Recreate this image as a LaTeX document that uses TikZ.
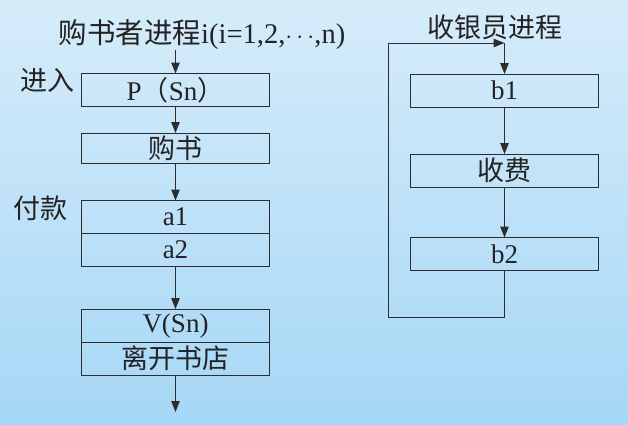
\documentclass[tikz,border=0pt]{standalone}
\usepackage{fontspec}
\setmainfont{Liberation Serif}
\newfontfamily\cjk{Noto Sans CJK SC}
\usetikzlibrary{arrows.meta,positioning}

\definecolor{bgtop}{RGB}{214,236,250}
\definecolor{bgbot}{RGB}{166,215,246}
\definecolor{linegray}{RGB}{45,45,45}
\definecolor{textgray}{RGB}{35,35,35}

\begin{document}
\begin{tikzpicture}[x=1pt, y=1pt,
    box/.style={draw=linegray, line width=1pt, outer sep=0pt, inner sep=0pt,
                minimum width=188pt, minimum height=33pt, text=textgray,
                font=\fontsize{27}{27}\selectfont},
    lbl/.style={text=textgray, inner sep=0pt, font=\fontsize{27}{27}\selectfont},
    arr/.style={-{Triangle[length=11pt, width=8.5pt]}, line width=1pt, draw=linegray}
]

% background
\shade[top color=bgtop, bottom color=bgbot] (0,0) rectangle (628,-424);
\useasboundingbox (0,0) rectangle (628,-424);

% buyer process
\node[lbl, font=\fontsize{28.5}{28.5}\selectfont] (ttl) at (202,-35)
    {{\cjk 购书者进程}i(i=1,2,$\cdots$,n)};
\node[box] (p) at (175.5,-90) {P{\cjk （}Sn{\cjk ）}};
\node[box, minimum height=30pt] (buy) at (175.5,-148) {\cjk 购书};
\node[box] (a1) at (175.5,-217) {a1};
\node[box, below=0pt of a1] (a2) {a2};
\node[box] (v) at (175.5,-325.5) {V(Sn)};
\node[box, below=0pt of v] (leave) {\cjk 离开书店};
\coordinate (exit) at (175.5,-412);

\node[lbl] (enter) at (47,-80) {\cjk 进入};
\node[lbl] (pay) at (40,-208) {\cjk 付款};

\draw[arr] (ttl.south -| p) -- (p);
\foreach \a/\b in {p/buy,buy/a1,a2/v,leave/exit}{
    \draw[arr] (\a) -- (\b);
}

% cashier process
\node[lbl] (ttr) at (495,-27) {\cjk 收银员进程};
\node[box] (b1) at (504.5,-90.5) {b1};
\node[box] (fee) at (504.5,-170.5) {\cjk 收费};
\node[box] (b2) at (504.5,-254) {b2};
\coordinate (ltop) at (504.5,-43);
\coordinate (lbot) at (388,-317);

\draw[arr] (b2.south) |- (lbot) |- (ltop);
\draw[arr] (ltop) -- (b1);
\foreach \a/\b in {b1/fee,fee/b2}{
    \draw[arr] (\a) -- (\b);
}

\end{tikzpicture}
\end{document}
